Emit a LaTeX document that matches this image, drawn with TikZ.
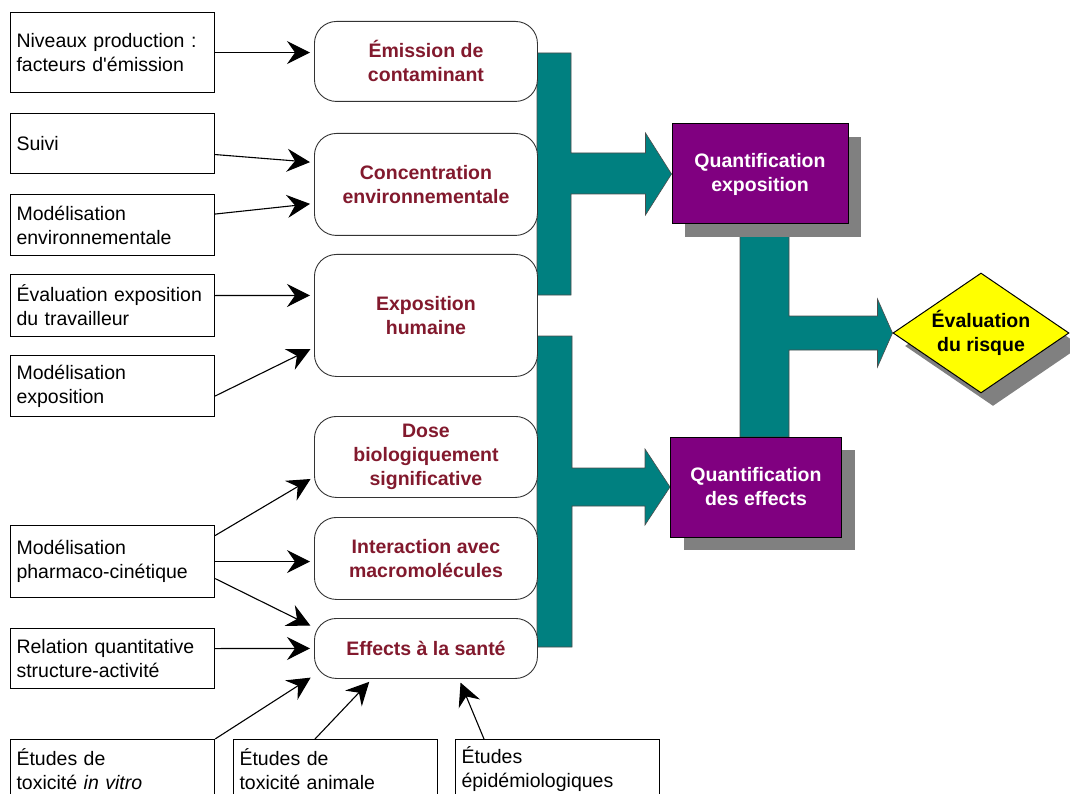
\documentclass[tikz,border=0pt]{standalone}
\usepackage{fontspec}
\setmainfont{Liberation Sans}
\usetikzlibrary{arrows.meta,shapes.geometric,shadows,calc}
\definecolor{brique}{RGB}{130,25,45}
\definecolor{prune}{RGB}{128,0,128}
\definecolor{sarcelle}{RGB}{0,128,128}
\definecolor{ombre}{RGB}{128,128,128}
\definecolor{citron}{RGB}{255,255,0}
\newcommand\corps{\fontsize{19.5}{24}\selectfont}
\pgfdeclarelayer{fond}
\pgfsetlayers{fond,main}
\tikzset{
  source/.style={draw, line width=1.1pt, anchor=north west, text width=192pt, inner xsep=6pt, inner ysep=0pt, align=left, font=\corps},
  etape/.style={draw=black!80, line width=0.9pt, fill=white, rounded corners=22pt, anchor=north west, minimum width=223pt, inner sep=0pt, align=center, text=brique, font=\corps\bfseries},
  quant/.style={draw, line width=1pt, fill=prune, text=white, align=center, font=\corps\bfseries, drop shadow={shadow xshift=13pt, shadow yshift=-13pt, fill=ombre, opacity=1}},
  fleche/.style={line width=1.1pt, -{Stealth[length=23pt,width=23pt,inset=8pt]}, shorten >=4pt},
  bloc/.style={fill=sarcelle, draw=black!70, line width=0.6pt}
}
\begin{document}
\begin{tikzpicture}[x=1pt, y=-1pt]
\clip (0,0) rectangle (1070,794);

% sources a gauche
\node[source, minimum height=80pt] (niveaux) at (10,12) {Niveaux production :\\facteurs d\textquotesingle émission};
\node[source, minimum height=60pt] (suivi) at (10,113) {Suivi};
\node[source, minimum height=61pt] (modenv) at (10,194) {Modélisation\\environnementale};
\node[source, minimum height=62pt] (evaltrav) at (10,274) {Évaluation exposition\\du travailleur};
\node[source, minimum height=61pt] (modexpo) at (10,355) {Modélisation\\exposition};
\node[source, minimum height=72pt] (pharma) at (10,525) {Modélisation\\pharmaco-cinétique};
\node[source, minimum height=60pt] (qsar) at (10,628) {Relation quantitative\\structure-activité};
\node[source, minimum height=60pt] (vitro) at (10,739) {Études de\\toxicité \textit{in vitro}};
\node[source, minimum height=60pt] (animale) at (233,739) {Études de\\toxicité animale};
\node[source, minimum height=60pt] (epidemio) at (455,739) {Études\\épidémiologiques};

% etapes
\node[etape, minimum height=80pt] (emis) at (314,21) {Émission de\\contaminant};
\node[etape, minimum height=102pt] (conc) at (314,133) {Concentration\\environnementale};
\node[etape, minimum height=122pt] (expo) at (314,254) {Exposition\\humaine};
\node[etape, minimum height=81pt] (dose) at (314,416) {Dose\\biologiquement\\significative};
\node[etape, minimum height=82pt] (inter) at (314,517) {Interaction avec\\macromolécules};
\node[etape, minimum height=60pt] (sante) at (314,618) {Effects à la santé};

% quantification et risque
\node[quant, minimum width=176pt, minimum height=100pt] (qexpo) at (760,174) {Quantification\\exposition};
\node[quant, minimum width=171pt, minimum height=100pt] (qeff) at (756,487) {Quantification\\des effects};
\node[diamond, draw, line width=1pt, fill=citron, aspect=1.47, minimum width=176pt, minimum height=120pt, inner sep=0pt, align=center, font=\corps\bfseries, drop shadow={shadow xshift=12pt, shadow yshift=-13pt, fill=ombre, opacity=1}] (risque) at (981,333) {Évaluation\\du risque};

% fleches
\draw[fleche] (niveaux.east) -- (niveaux.east -| emis.west);
\draw[fleche] ([yshift=-11pt]suivi.east) -- ([yshift=22pt]conc.west);
\draw[fleche] ([yshift=11pt]modenv.east) -- ([yshift=-19pt]conc.west);
\draw[fleche] ([yshift=10pt]evaltrav.east) -- ([yshift=20pt]expo.west);
\draw[fleche] ([yshift=-10pt]modexpo.east) -- ([yshift=-32pt]expo.west);
\draw[fleche] ([yshift=26pt]pharma.east) -- ([yshift=-20pt]dose.west);
\draw[fleche] (pharma.east) -- (pharma.east -| inter.west);
\draw[fleche] ([yshift=-17pt]pharma.east) -- ([yshift=21pt]sante.west);
\draw[fleche] ([yshift=10pt]qsar.east) -- (sante.west);
\draw[fleche] (vitro.north east) -- ([yshift=-27pt]sante.west);
\draw[fleche] ([xshift=82pt]animale.north west) -- ([xshift=58pt]sante.south west);
\draw[fleche] ([xshift=29pt]epidemio.north west) -- ([xshift=145pt]sante.south west);

% grosses fleches
\begin{pgfonlayer}{fond}
\filldraw[bloc] (537,53) -- (571,53) -- (571,153) -- ($(qexpo.west)+(-26,-21)$) -- ($(qexpo.west)+(-26,-41)$) -- (qexpo.west) -- ($(qexpo.west)+(-26,41)$) -- ($(qexpo.west)+(-26,20)$) -- (571,194) -- (571,295) -- (537,295) -- cycle;
\filldraw[bloc] (537,336) -- (572,336) -- (572,468) -- ($(qeff.west)+(-25,-19)$) -- ($(qeff.west)+(-25,-38)$) -- (qeff.west) -- ($(qeff.west)+(-25,38)$) -- ($(qeff.west)+(-25,19)$) -- (572,506) -- (572,647) -- (537,647) -- cycle;
\filldraw[bloc] (740,224) -- (789,224) -- (789,316) -- ($(risque.west)+(-15,-17)$) -- ($(risque.west)+(-15,-34)$) -- (risque.west) -- ($(risque.west)+(-15,34)$) -- ($(risque.west)+(-15,17)$) -- (789,350) -- (789,437) -- (740,437) -- cycle;
\end{pgfonlayer}
\end{tikzpicture}
\end{document}
